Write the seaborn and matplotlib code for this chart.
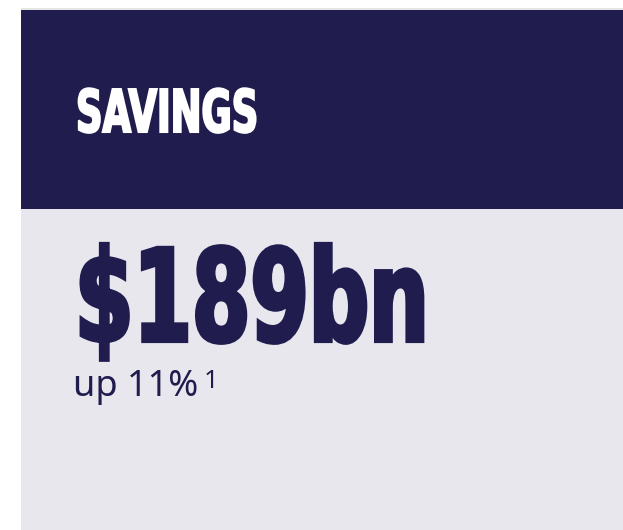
import matplotlib
matplotlib.use("Agg")
import matplotlib.pyplot as plt
import matplotlib.patheffects as pe
from matplotlib.transforms import Affine2D
import seaborn as sns

# card content
title = "SAVINGS"
value = "$189bn"
change = "up 11%"
footnote = "1"

navy = "#201c4e"
light = "#e8e7ee"


class Tall(pe.AbstractPathEffect):
    # stretches glyphs upward from the baseline and thickens them,
    # to imitate a heavy condensed display face
    def __init__(self, sy, lw, color):
        super().__init__()
        self.sy = sy
        self.lw = lw
        self.color = color

    def draw_path(self, renderer, gc, tpath, affine, rgbFace=None):
        _, y0 = affine.transform((0, 0))
        tall = affine + Affine2D().translate(0, -y0).scale(1, self.sy).translate(0, y0)
        gc0 = renderer.new_gc()
        gc0.copy_properties(gc)
        gc0.set_linewidth(self.lw)
        gc0.set_foreground(self.color)
        gc0.set_joinstyle("miter")
        renderer.draw_path(gc0, tpath, tall, rgbFace)
        gc0.restore()


sns.set_theme(style="dark")
plt.rcParams["font.family"] = ["DejaVu Sans"]

W, H = 623, 530
fig = plt.figure(figsize=(W / 100, H / 100), dpi=100)
fig.patch.set_facecolor("white")

# card panel, pixel units from the bottom of the figure
ax = fig.add_axes([21 / W, 0, 1 - 21 / W, 522 / H])
ax.set_facecolor(light)
ax.set_xlim(0, 1)
ax.set_ylim(0, 522)
ax.axhspan(321, 520, color=navy, lw=0)
ax.axhspan(520, 522, color="#e6e6e2", lw=0)
ax.set_xticks([])
ax.set_yticks([])
sns.despine(ax=ax, left=True, bottom=True)

fig.text(76 / W, 1 - 132 / H, title, color="white", fontsize=26.5,
         fontweight="bold", va="baseline", ha="left",
         path_effects=[Tall(1.6, 1.5, "white")])
fig.text(75 / W, 1 - 341 / H, value, color=navy, fontsize=60.5,
         fontweight="bold", va="baseline", ha="left",
         path_effects=[Tall(1.52, 3, navy)])

plain = ["Noto Sans", "DejaVu Sans"]
fig.text(73 / W, 1 - 396 / H, change, color=navy, fontsize=26,
         fontweight="light", family=plain, va="baseline", ha="left")
fig.text(204 / W, 1 - 388 / H, footnote, color=navy, fontsize=18.5,
         fontweight="light", family=plain, va="baseline", ha="left")

fig.savefig("out.png", dpi=100)
